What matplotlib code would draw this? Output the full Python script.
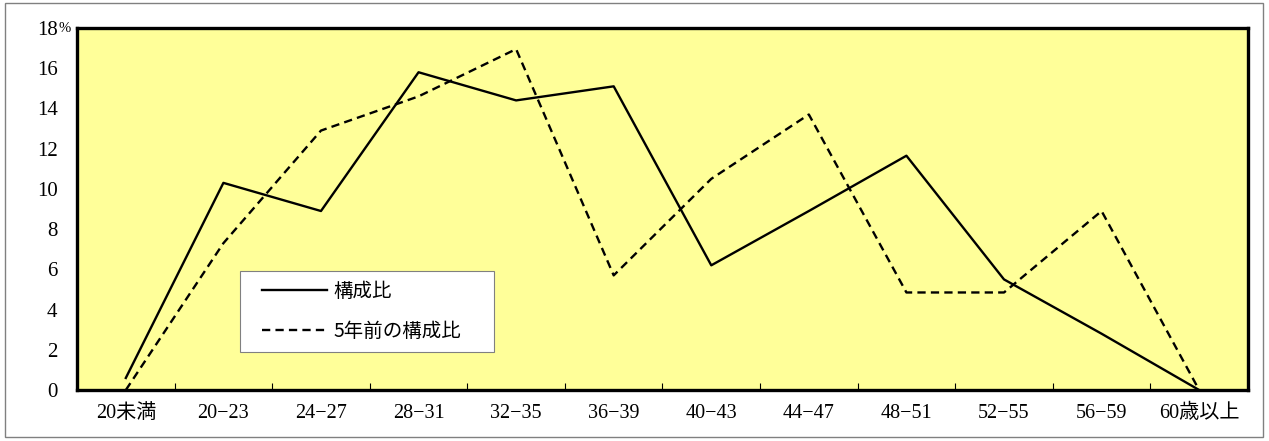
import matplotlib.pyplot as plt
from matplotlib.patches import Rectangle
from matplotlib.lines import Line2D
from matplotlib.legend_handler import HandlerLine2D

# age groups
categories = ["20未満", "20−23", "24−27", "28−31", "32−35", "36−39",
              "40−43", "44−47", "48−51", "52−55", "56−59", "60歳以上"]
# composition ratio (%)
ratio_now = [0.6, 10.3, 8.9, 15.8, 14.4, 15.1, 6.2, 8.9, 11.65, 5.5, 2.8, 0.0]
ratio_5y = [0.0, 7.3, 12.9, 14.6, 16.95, 5.7, 10.5, 13.7, 4.85, 4.85, 8.9, 0.0]
yticks = [0, 2, 4, 6, 8, 10, 12, 14, 16, 18]

fonts = ["Liberation Serif", "Noto Sans CJK JP"]
plt.rcParams["font.family"] = fonts

fig = plt.figure(figsize=(12.69, 4.41), dpi=100)
fig.patches.append(Rectangle((0.004, 0.008), 0.991, 0.985, transform=fig.transFigure,
                             fill=False, edgecolor="#808080", linewidth=1))
ax = fig.add_axes([0.0607, 0.1156, 0.9227, 0.8209])
ax.set_facecolor("#FFFF99")

x = [i + 0.5 for i in range(len(categories))]
ax.plot(x, ratio_now, color="black", linewidth=1.7, label="構成比")
ax.plot(x, ratio_5y, color="black", linewidth=1.7, linestyle=(0, (3.5, 2.2)),
        label="5年前の構成比")

ax.set_xlim(0, len(categories))
ax.set_ylim(0, 18)
ax.set_xticks(x)
ax.set_xticklabels(categories, fontsize=14.5)
ax.set_xticks(range(1, len(categories)), minor=True)
ax.tick_params(axis="x", which="major", length=0, pad=10)
ax.tick_params(axis="x", which="minor", direction="in", length=5, width=0.8)
ax.set_yticks(yticks)
ax.set_yticklabels([str(v) for v in yticks], fontsize=15)
ax.tick_params(axis="y", length=0, pad=14)
ax.annotate("%", xy=(0, 18), xycoords=ax.get_yaxis_transform(),
            xytext=(-13, 0), textcoords="offset points", fontsize=10.5,
            ha="left", va="center")

for s in ax.spines.values():
    s.set_linewidth(2.4)

leg = ax.legend(loc="lower left", bbox_to_anchor=(0.1395, 0.105, 0.217, 0.222),
                mode="expand", fancybox=False, framealpha=1, edgecolor="#808080",
                handlelength=3.95, handletextpad=0.35,
                labelspacing=1.0, borderpad=0.5, borderaxespad=0,
                handler_map={Line2D: HandlerLine2D(xpad=0.6)},
                prop={"family": ["Noto Sans CJK JP"], "size": 14})
leg.get_frame().set_linewidth(0.8)

fig.savefig("out.png", dpi=100)
